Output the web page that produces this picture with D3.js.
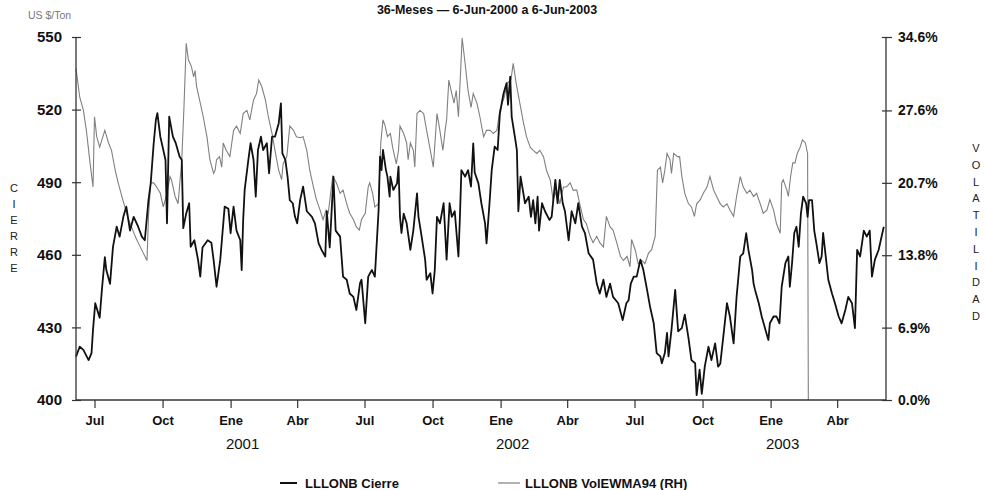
<!DOCTYPE html>
<html>
<head>
<meta charset="utf-8">
<script src="https://cdn.jsdelivr.net/npm/d3@7"></script>
<style>
  html, body { margin: 0; padding: 0; background: #fff; }
  svg { display: block; font-family: "Liberation Sans", Arial, Helvetica, sans-serif; }
</style>
</head>
<body>
<svg id="chart" width="985" height="490"></svg>
<script>
// Periodo del gráfico
const inicio = "2000-06-06";
const fin = "2003-06-06";

// Cierre LLLONB (US $/Ton): días desde el inicio y valor
const diasCierre = [0,5,10,17,21,23,26,30,32,35,39,41,46,50,55,59,64,68,73,78,84,89,93,98,101,105,108,110,114,117,121,123,126,131,135,140,143,145,149,153,155,160,165,168,171,178,183,186,190,195,201,206,209,213,217,222,224,226,228,233,236,240,243,246,250,253,258,261,265,269,274,277,279,283,286,289,293,296,299,303,307,312,319,323,328,332,337,339,343,348,351,357,361,366,370,375,379,384,386,391,395,400,404,409,411,413,415,419,421,424,425,429,434,436,438,440,443,447,452,456,461,463,466,472,474,479,482,485,488,492,497,501,505,508,512,517,519,521,526,530,534,537,539,544,548,553,555,559,562,566,570,573,578,582,584,587,589,594,596,598,601,604,607,612,615,618,621,624,626,630,634,640,643,648,651,654,658,661,666,670,675,679,684,688,693,699,704,708,713,717,722,726,733,739,744,747,750,754,758,763,767,772,776,781,785,790,792,796,799,801,805,810,814,819,823,828,832,837,839,843,846,850,855,859,864,868,871,875,880,884,889,893,898,902,906,909,914,916,918,923,927,932,936,938,943,947,951,954,959,963,965,968,971,974,977,980,983,987,989,991,995,998,1001,1005,1008,1010,1014,1017,1022,1026,1031,1035,1040,1044,1049,1053,1056,1060,1065,1069,1073,1076,1080,1085,1092];
const cierre = [417.9,422,420.7,416.5,419.4,429,440,436,434,445.5,459,453.7,448,463.3,471.6,467.5,475.7,479.9,470,475.7,471.6,467.5,466,482.6,489.5,506,515.7,518.5,508.8,504.7,499.2,473,517.1,508.8,506,500.6,499.2,471,477.1,481.3,463.3,466,457.9,451,463,466,465,457.9,446.8,457.9,479.9,479,468.9,479.9,470,466.1,453.7,474.4,486.8,499.2,506.1,499.2,484,503.3,508.8,503.3,506.1,493.7,508.8,508.8,514.3,522.6,501.9,499.2,492.3,482.6,481.3,475.8,473,482.6,488.2,478,475.7,473,464.7,462,459.3,478,463,492.3,470,467.5,451,449.7,444,442.6,437.2,448.3,449.7,431.7,451,453.7,451,478,500.6,495,503.3,495,492.3,484,492.3,486.8,489.5,496.4,475.7,469,477,473,462,470,485.4,475.7,470,458,449.7,452.4,444,453.7,475.7,473,481.3,458,481.3,475.7,478,459.3,475.7,495,492.3,495,488.2,506,494,489.5,481.3,473,464.7,481.3,495,504.7,503.3,518.4,526.7,530.9,522,533.6,517,507.4,503.3,478,492.3,486.8,481.3,484,475.7,482.6,473,484,470,481.3,478,474.4,475.7,491,481.3,491,481.3,478,466,478,473,481.3,471.6,469,460.6,458,448.1,444,449.7,442.6,448.1,442.6,440,433,440,441.2,448.1,451,451,458,453.7,445.5,438.6,431.7,419.4,418,415.2,419.4,427.7,418,429,445.5,428.4,429.7,435.3,425.6,416.5,415.2,402,412.5,402.5,413.8,422,416.5,423.4,413.8,415,426,440,434.5,423.4,442.6,459.3,460.6,468.9,462,453.7,448.1,445.5,440,434.5,429,424.8,431.7,434.5,434.5,431.7,446.8,456.6,459.3,446.8,456.6,469,471.6,463.3,477.1,484,481.3,475.7,482.6,482.6,470,464.5,456.6,459.3,469,458,449.7,444,440,434.5,431.7,437.2,442.6,440,429.7,462,459.3,470,467.5,470,451,458,462,471.6];

// Volatilidad EWMA 94 (%): días desde el inicio y valor
const diasVol = [0,5,10,14,19,23,25,28,32,35,39,44,48,53,57,62,66,71,75,80,84,91,96,98,101,105,109,114,118,123,127,129,134,138,143,146,149,152,156,159,161,163,168,172,177,181,186,188,190,194,197,199,203,208,213,217,222,226,231,235,240,244,247,251,256,260,265,269,274,278,280,285,289,294,298,303,307,312,316,321,325,330,334,338,341,347,352,357,361,366,370,375,379,383,386,391,395,397,401,404,409,412,415,418,421,425,428,433,436,438,443,447,449,452,456,458,461,465,470,474,479,483,488,491,496,499,501,504,508,511,514,517,520,522,526,530,534,537,542,546,551,555,560,564,569,573,579,583,588,591,595,600,605,609,614,618,623,627,632,636,641,645,650,654,659,663,668,672,677,681,686,690,695,699,704,708,713,717,722,726,731,736,740,745,749,751,756,760,765,769,774,778,783,786,790,793,796,799,803,805,808,813,816,819,823,828,832,836,839,844,848,853,857,862,866,871,875,880,884,889,893,898,902,907,911,916,920,925,929,934,938,943,947,952,954,956,961,963,966,969,972,975,979,982,986,989,990];
const volatilidad = [31.6,28.9,27.6,25.7,22.6,20.3,27,25.1,24.1,24.8,25.7,24.5,23.8,21.9,20.7,19.4,18.4,17.2,16.5,15.6,15,14,13.3,17.5,20.7,20.7,20.3,19.7,18.4,19.7,21.3,21,19.4,18.7,22.9,28,34,32.4,31.8,30.8,31.4,29.9,28.3,27,25.1,22.9,21.6,21.9,22.9,23.2,22.2,24.5,23.8,23.2,25.7,26.1,25.4,27.3,27.6,26.7,28.6,29.2,30.5,29.9,28.6,27,25.4,23.8,21.9,21,22.5,23.2,26.1,25.7,25.1,25,25.1,23.8,21.9,20.3,19.1,18.1,17.2,18.1,17.8,21.3,20.7,19.7,20,18.7,17.8,17.2,16.5,16.2,17.2,17.8,20.3,20.7,19.7,18.4,18.7,24.5,26.7,26.1,25.1,25.4,24.1,22.5,23.8,26.1,25.4,24.5,22.9,24.5,23.8,22.2,27.3,27.6,27.3,25.7,23.8,22.2,27.3,26.1,23.8,25.7,26.7,30.5,29.2,28.3,29.5,27,31.4,34.5,32.1,29.5,27.9,29.2,28.3,27,25.1,25.7,25.7,25.4,25.7,27.6,28.9,30.2,30.5,32.1,30.2,28.3,26.4,25.1,24.1,23.8,23.5,23.8,23.2,21.9,21,19.1,20,18.7,20.3,20.3,20.7,20,20,18.7,17.2,16.8,15.6,15,15.6,15,14.6,17.5,16.5,16.2,15,13.7,13.3,13.7,12.7,15.3,14.3,13,13.3,13,14,14.3,15.6,21.9,22.2,20.7,21.9,23.5,22.9,21.6,23.5,23.2,23.2,21.3,19.7,18.7,18.4,17.5,18.7,19.1,19.7,20.3,21.3,20,19.4,18.7,18.4,18.7,18.1,17.5,19.4,21.3,20.3,19.7,20,19.4,19.7,18.7,17.8,18.1,19.1,18.1,16.8,15.9,20.7,21,20,19.4,21.3,22.6,22.6,23.5,24.1,24.8,24.5,23.5,0];

// Marcas de los ejes
const ticksCierre = [400, 430, 460, 490, 520, 550];
const ticksVol = [0, 6.9, 13.8, 20.7, 27.6, 34.6];
const nombresMes = ["Ene","Feb","Mar","Abr","May","Jun","Jul","Ago","Sep","Oct","Nov","Dic"];
const anios = [2001, 2002, 2003];

// Textos
const titulo = "36-Meses \u2014 6-Jun-2000 a 6-Jun-2003";
const unidad = "US $/Ton";
const rotuloIzq = "CIERRE";
const rotuloDer = "VOLATILIDAD";
const leyenda = ["LLLONB Cierre", "LLLONB VolEWMA94 (RH)"];

// ---------------------------------------------------------------
const svg = d3.select("#chart");
const W = 985, H = 490;
const m = { left: 76, right: 99, top: 37, bottom: 90 };
const plotB = H - m.bottom;

const parse = d3.timeParse("%Y-%m-%d");
const t0 = parse(inicio), t1 = parse(fin);

const x = d3.scaleTime().domain([t0, t1]).range([m.left, W - m.right]);
const yL = d3.scaleLinear().domain([400, 550]).range([plotB, m.top]);
const yR = d3.scaleLinear().domain([0, 34.6]).range([plotB, m.top]);

const serieCierre = diasCierre.map((d, i) => ({ fecha: d3.timeDay.offset(t0, d), v: cierre[i] }));
const serieVol = diasVol.map((d, i) => ({ fecha: d3.timeDay.offset(t0, d), v: volatilidad[i] }));

const axisColor = "#333";

// Líneas de datos
svg.append("path")
  .datum(serieVol)
  .attr("fill", "none")
  .attr("stroke", "#808080")
  .attr("stroke-width", 1.1)
  .attr("d", d3.line().x(d => x(d.fecha)).y(d => yR(d.v)));

svg.append("path")
  .datum(serieCierre)
  .attr("fill", "none")
  .attr("stroke", "#111")
  .attr("stroke-width", 1.8)
  .attr("stroke-linejoin", "round")
  .attr("d", d3.line().x(d => x(d.fecha)).y(d => yL(d.v)));

// Eje izquierdo
const gL = svg.append("g").attr("transform", `translate(${m.left},0)`)
  .call(d3.axisLeft(yL).tickValues(ticksCierre).tickSize(4).tickPadding(10).tickFormat(d3.format("d")));
gL.selectAll(".tick line").attr("x1", 5).attr("x2", -4);

// Eje derecho
const gR = svg.append("g").attr("transform", `translate(${W - m.right},0)`)
  .call(d3.axisRight(yR).tickValues(ticksVol).tickSize(6).tickPadding(6).tickFormat(d => d.toFixed(1) + "%"));
gR.selectAll(".tick line").attr("x1", -4).attr("x2", 6);

// Eje inferior
const ticksX = d3.timeMonth.every(3).range(d3.timeMonth.ceil(t0), t1);
const gB = svg.append("g").attr("transform", `translate(0,${plotB})`)
  .call(d3.axisBottom(x).tickValues(ticksX).tickSize(8).tickPadding(8)
    .tickFormat(d => nombresMes[d.getMonth()]));

[gL, gR, gB].forEach(g => {
  g.select(".domain").attr("stroke", axisColor).attr("stroke-width", 1.3);
  g.selectAll(".tick line").attr("stroke", axisColor).attr("stroke-width", 1.2);
  g.selectAll("text").attr("fill", "#111").attr("font-family", "'Liberation Sans', Arial, sans-serif")
    .attr("font-weight", "bold");
});
gL.selectAll("text").attr("font-size", 15);
gR.selectAll("text").attr("font-size", 14);
gB.selectAll("text").attr("font-size", 13);
// sin marcas exteriores en los extremos del dominio
gL.select(".domain").attr("d", `M0,${m.top}V${plotB}`);
gR.select(".domain").attr("d", `M0,${m.top}V${plotB}`);
gB.select(".domain").attr("d", `M${m.left},0H${W - m.right}`);

// Años bajo el eje
svg.append("g").selectAll("text").data(anios).join("text")
  .attr("x", d => x(new Date(d, 0, 1)) + 12)
  .attr("y", 449)
  .attr("text-anchor", "middle")
  .attr("font-size", 15)
  .attr("fill", "#111")
  .text(d => d);

// Título
svg.append("text")
  .attr("x", 487).attr("y", 14)
  .attr("text-anchor", "middle")
  .attr("font-size", 12.5)
  .attr("font-weight", "bold")
  .attr("fill", "#111")
  .text(titulo);

// Unidad
svg.append("text")
  .attr("x", 28).attr("y", 19)
  .attr("font-size", 10.5)
  .attr("fill", "#777")
  .text(unidad);

// Rótulos verticales (letras apiladas)
function apilado(texto, cx, yIni, paso) {
  svg.append("g").selectAll("text").data(texto.split("")).join("text")
    .attr("x", cx).attr("y", (d, i) => yIni + i * paso)
    .attr("text-anchor", "middle")
    .attr("font-size", 11)
    .attr("fill", "#222")
    .text(d => d);
}
apilado(rotuloIzq, 14, 192, 16);
apilado(rotuloDer, 976, 152, 16.8);

// Leyenda
const leg = svg.append("g");
leg.append("line").attr("x1", 280).attr("x2", 297).attr("y1", 483).attr("y2", 483)
  .attr("stroke", "#111").attr("stroke-width", 2);
leg.append("text").attr("x", 305).attr("y", 488).attr("font-size", 13).attr("font-weight", "bold")
  .attr("fill", "#111").text(leyenda[0]);
leg.append("line").attr("x1", 498).attr("x2", 520).attr("y1", 483).attr("y2", 483)
  .attr("stroke", "#808080").attr("stroke-width", 1.2);
leg.append("text").attr("x", 525).attr("y", 488).attr("font-size", 13).attr("font-weight", "bold")
  .attr("fill", "#111").text(leyenda[1]);
</script>
</body>
</html>
